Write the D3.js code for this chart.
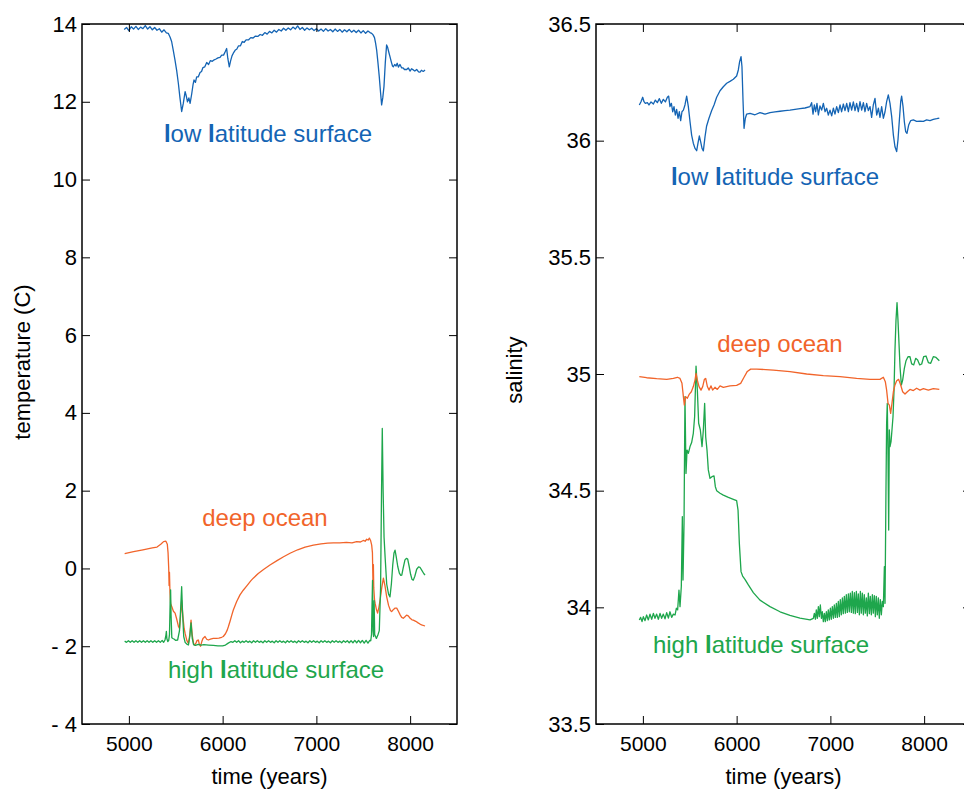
<!DOCTYPE html>
<html><head><meta charset="utf-8">
<script src="https://cdn.jsdelivr.net/npm/d3@7"></script>
<style>html,body{margin:0;padding:0;background:#fff;overflow:hidden}</style>
</head><body><svg id="chart" width="964" height="792"></svg>
<script>
// Axis ticks and their labels
const timeTicks = [5000, 6000, 7000, 8000];
const tempTicks = [-4, -2, 0, 2, 4, 6, 8, 10, 12, 14];
const tempTickLabels = ["- 4", "- 2", "0", "2", "4", "6", "8", "10", "12", "14"];
const salTicks = [33.5, 34, 34.5, 35, 35.5, 36, 36.5];
const salTickLabels = ["33.5", "34", "34.5", "35", "35.5", "36", "36.5"];

// Temperature (C) by time (years)
const tempLowLat = [[4950,13.86],[4975,13.91],[5000,13.83],[5025,13.93],[5050,13.87],[5075,13.94],[5100,13.86],[5125,13.92],[5150,13.88],[5175,13.96],[5200,13.87],[5225,13.93],[5250,13.85],[5275,13.91],[5300,13.84],[5325,13.88],[5350,13.79],[5375,13.85],[5400,13.77],[5420,13.76],[5440,13.66],[5456,13.55],[5475,13.30],[5492,13.07],[5510,12.80],[5528,12.47],[5545,12.10],[5563,11.75],[5580,11.95],[5600,12.26],[5612,12.15],[5625,12.00],[5640,12.10],[5653,11.96],[5670,12.20],[5685,12.45],[5695,12.56],[5710,12.50],[5723,12.64],[5740,12.64],[5759,12.75],[5775,12.78],[5790,12.88],[5810,12.90],[5830,13.01],[5850,12.96],[5870,13.06],[5890,13.04],[5910,13.08],[5930,13.10],[5950,13.13],[5972,13.14],[5990,13.20],[6010,13.20],[6030,13.30],[6043,13.37],[6055,13.12],[6071,12.90],[6085,13.05],[6100,13.18],[6114,13.25],[6135,13.33],[6150,13.35],[6170,13.44],[6190,13.44],[6210,13.55],[6230,13.53],[6250,13.59],[6275,13.59],[6300,13.65],[6325,13.64],[6350,13.69],[6375,13.68],[6400,13.73],[6425,13.71],[6450,13.78],[6475,13.74],[6500,13.81],[6525,13.77],[6550,13.84],[6575,13.79],[6600,13.86],[6625,13.82],[6650,13.89],[6675,13.84],[6700,13.90],[6725,13.85],[6750,13.92],[6775,13.87],[6800,13.95],[6825,13.86],[6850,13.91],[6875,13.84],[6900,13.90],[6925,13.85],[6950,13.89],[6975,13.83],[7000,13.88],[7025,13.82],[7050,13.87],[7075,13.81],[7100,13.88],[7125,13.82],[7150,13.86],[7175,13.80],[7200,13.87],[7225,13.81],[7250,13.86],[7275,13.79],[7300,13.85],[7325,13.80],[7350,13.86],[7375,13.79],[7400,13.84],[7425,13.78],[7450,13.84],[7475,13.77],[7500,13.83],[7525,13.76],[7550,13.82],[7572,13.78],[7590,13.76],[7605,13.72],[7620,13.65],[7632,13.50],[7643,13.33],[7657,13.00],[7671,12.64],[7684,12.25],[7696,11.92],[7708,12.10],[7721,12.39],[7735,13.00],[7749,13.46],[7760,13.40],[7772,13.28],[7785,13.16],[7800,13.02],[7812,12.92],[7821,12.90],[7835,12.96],[7850,12.92],[7862,12.99],[7875,12.89],[7892,12.96],[7910,12.87],[7925,12.87],[7940,12.83],[7963,12.83],[7980,12.87],[8000,12.79],[8015,12.85],[8034,12.82],[8050,12.79],[8070,12.83],[8090,12.77],[8105,12.76],[8120,12.81],[8140,12.78],[8159,12.82]];

const tempDeep = [[4955,0.38],[5050,0.43],[5150,0.48],[5250,0.53],[5300,0.55],[5340,0.62],[5370,0.69],[5395,0.70],[5410,0.62],[5418,0.40],[5425,0.00],[5429,-0.44],[5433,-0.10],[5438,-0.60],[5445,-0.90],[5460,-1.00],[5475,-1.10],[5493,-1.15],[5510,-1.30],[5530,-1.50],[5540,-1.54],[5552,-1.20],[5563,-0.82],[5575,-1.20],[5590,-1.55],[5600,-1.67],[5618,-1.85],[5635,-1.93],[5650,-1.70],[5663,-1.33],[5675,-1.70],[5690,-1.93],[5700,-1.97],[5715,-1.92],[5728,-1.85],[5741,-1.84],[5752,-1.95],[5764,-2.00],[5778,-1.88],[5790,-1.80],[5812,-1.75],[5830,-1.82],[5848,-1.84],[5870,-1.82],[5900,-1.80],[5930,-1.80],[5960,-1.79],[5990,-1.77],[6007,-1.75],[6030,-1.68],[6050,-1.58],[6061,-1.50],[6080,-1.35],[6100,-1.18],[6114,-1.07],[6150,-0.85],[6185,-0.68],[6220,-0.56],[6260,-0.44],[6300,-0.32],[6327,-0.25],[6380,-0.13],[6440,-0.02],[6505,0.09],[6580,0.20],[6650,0.30],[6719,0.39],[6800,0.48],[6880,0.55],[6968,0.60],[7050,0.63],[7120,0.65],[7181,0.66],[7250,0.66],[7320,0.67],[7380,0.66],[7430,0.69],[7470,0.68],[7500,0.72],[7520,0.70],[7537,0.75],[7552,0.73],[7565,0.78],[7578,0.72],[7590,0.60],[7598,0.40],[7603,-0.30],[7608,0.10],[7612,-0.50],[7620,-0.80],[7627,-0.90],[7640,-1.05],[7653,-1.15],[7667,-1.00],[7680,-0.81],[7697,-0.50],[7715,-0.25],[7732,-0.45],[7750,-0.73],[7770,-0.95],[7790,-1.08],[7803,-1.11],[7820,-1.06],[7840,-1.02],[7857,-1.02],[7875,-1.10],[7895,-1.20],[7910,-1.26],[7927,-1.28],[7945,-1.24],[7962,-1.20],[7980,-1.22],[8000,-1.28],[8020,-1.32],[8034,-1.33],[8060,-1.36],[8085,-1.40],[8105,-1.43],[8130,-1.46],[8159,-1.48]];

const tempHighLat = [[4955,-1.87],[4975,-1.90],[4995,-1.86],[5015,-1.90],[5035,-1.86],[5055,-1.90],[5075,-1.86],[5095,-1.90],[5115,-1.86],[5135,-1.90],[5155,-1.86],[5175,-1.90],[5195,-1.86],[5215,-1.90],[5235,-1.86],[5255,-1.90],[5275,-1.86],[5295,-1.90],[5315,-1.86],[5335,-1.90],[5355,-1.85],[5370,-1.90],[5385,-1.84],[5395,-1.72],[5400,-1.62],[5405,-1.80],[5415,-1.88],[5425,-1.85],[5433,-1.70],[5440,-0.90],[5445,-0.55],[5450,-1.20],[5458,-1.78],[5470,-1.80],[5485,-1.82],[5500,-1.85],[5520,-1.84],[5540,-1.60],[5553,-1.00],[5563,-0.47],[5572,-1.10],[5585,-1.75],[5600,-1.90],[5620,-1.95],[5635,-1.97],[5650,-1.75],[5663,-1.40],[5676,-1.80],[5690,-1.96],[5710,-1.98],[5740,-1.95],[5770,-1.97],[5800,-1.96],[5850,-1.97],[5900,-1.98],[5950,-1.99],[6000,-1.99],[6030,-1.97],[6060,-1.92],[6090,-1.88],[6110,-1.90],[6130,-1.86],[6150,-1.90],[6170,-1.86],[6190,-1.91],[6210,-1.87],[6230,-1.90],[6250,-1.86],[6270,-1.90],[6290,-1.87],[6310,-1.91],[6330,-1.86],[6350,-1.90],[6370,-1.86],[6390,-1.90],[6410,-1.87],[6430,-1.91],[6450,-1.86],[6470,-1.90],[6490,-1.86],[6510,-1.90],[6530,-1.87],[6550,-1.91],[6570,-1.86],[6590,-1.90],[6610,-1.86],[6630,-1.90],[6650,-1.87],[6670,-1.91],[6690,-1.86],[6710,-1.90],[6730,-1.86],[6750,-1.90],[6770,-1.87],[6790,-1.91],[6810,-1.86],[6830,-1.90],[6850,-1.86],[6870,-1.90],[6890,-1.87],[6910,-1.91],[6930,-1.86],[6950,-1.90],[6970,-1.86],[6990,-1.90],[7010,-1.87],[7030,-1.91],[7050,-1.86],[7070,-1.90],[7090,-1.86],[7110,-1.90],[7130,-1.87],[7150,-1.91],[7170,-1.86],[7190,-1.90],[7210,-1.86],[7230,-1.90],[7250,-1.87],[7270,-1.91],[7290,-1.86],[7310,-1.90],[7330,-1.86],[7350,-1.91],[7370,-1.86],[7390,-1.91],[7410,-1.85],[7430,-1.91],[7450,-1.85],[7470,-1.91],[7490,-1.85],[7510,-1.92],[7530,-1.85],[7550,-1.92],[7570,-1.85],[7580,-1.86],[7588,-1.70],[7594,-0.90],[7599,-0.31],[7604,-1.60],[7610,-1.75],[7616,-0.83],[7622,-1.70],[7640,-1.80],[7655,-1.72],[7671,-1.60],[7685,-0.50],[7695,2.00],[7703,3.60],[7712,2.00],[7722,0.80],[7733,0.30],[7750,-0.40],[7770,-0.66],[7785,-0.73],[7800,-0.40],[7815,0.10],[7828,0.40],[7839,0.47],[7852,0.30],[7868,0.05],[7885,-0.12],[7900,-0.18],[7911,-0.17],[7925,0.00],[7945,0.22],[7960,0.26],[7974,0.24],[7990,0.05],[8005,-0.15],[8020,-0.28],[8034,-0.30],[8050,-0.20],[8070,-0.02],[8090,0.04],[8105,0.03],[8125,-0.05],[8145,-0.13],[8159,-0.17]];

// Salinity by time (years)
const salLowLat = [[4962,36.153],[4980,36.167],[4998,36.186],[5012,36.167],[5026,36.160],[5048,36.163],[5065,36.153],[5087,36.166],[5112,36.157],[5133,36.174],[5154,36.163],[5176,36.180],[5197,36.160],[5218,36.177],[5240,36.166],[5261,36.186],[5275,36.191],[5289,36.146],[5304,36.160],[5318,36.124],[5332,36.146],[5346,36.110],[5360,36.134],[5375,36.096],[5389,36.124],[5403,36.086],[5417,36.124],[5432,36.131],[5449,36.153],[5467,36.191],[5485,36.146],[5503,36.081],[5520,36.024],[5538,35.989],[5556,35.967],[5574,35.957],[5588,35.989],[5602,36.020],[5616,35.996],[5631,35.967],[5645,35.956],[5663,36.017],[5680,36.063],[5705,36.096],[5734,36.129],[5759,36.153],[5787,36.186],[5823,36.214],[5858,36.231],[5894,36.246],[5929,36.254],[5965,36.263],[6000,36.277],[6018,36.303],[6032,36.339],[6047,36.360],[6057,36.317],[6068,36.174],[6079,36.053],[6093,36.096],[6107,36.114],[6143,36.117],[6196,36.111],[6249,36.120],[6303,36.114],[6356,36.120],[6409,36.123],[6463,36.126],[6516,36.129],[6569,36.131],[6623,36.134],[6676,36.137],[6729,36.140],[6783,36.146],[6800,36.163],[6815,36.114],[6829,36.153],[6843,36.124],[6857,36.160],[6872,36.110],[6889,36.149],[6907,36.131],[6925,36.160],[6943,36.124],[6960,36.139],[6978,36.110],[6996,36.131],[7014,36.106],[7032,36.139],[7049,36.114],[7067,36.146],[7085,36.120],[7103,36.153],[7120,36.124],[7138,36.157],[7156,36.129],[7174,36.160],[7192,36.124],[7209,36.163],[7227,36.131],[7245,36.166],[7263,36.129],[7280,36.160],[7298,36.124],[7316,36.167],[7334,36.131],[7352,36.163],[7369,36.124],[7387,36.160],[7405,36.129],[7423,36.146],[7440,36.100],[7458,36.153],[7476,36.181],[7494,36.110],[7512,36.139],[7529,36.100],[7547,36.146],[7565,36.096],[7583,36.124],[7600,36.167],[7618,36.196],[7636,36.160],[7654,36.103],[7672,36.024],[7689,35.974],[7707,35.953],[7721,36.003],[7736,36.089],[7750,36.167],[7760,36.191],[7775,36.146],[7789,36.081],[7803,36.039],[7817,36.031],[7835,36.067],[7857,36.086],[7885,36.089],[7920,36.083],[7956,36.084],[7992,36.083],[8027,36.089],[8063,36.086],[8098,36.091],[8134,36.094],[8162,36.097]];

const salDeep = [[4962,34.989],[5040,34.984],[5147,34.980],[5254,34.977],[5325,34.981],[5368,34.986],[5396,34.981],[5417,34.960],[5432,34.903],[5442,34.867],[5456,34.903],[5474,34.896],[5496,34.914],[5517,34.924],[5538,34.946],[5556,34.974],[5567,35.003],[5581,34.974],[5599,34.946],[5620,34.931],[5638,34.946],[5656,34.977],[5670,34.981],[5688,34.946],[5705,34.931],[5727,34.949],[5744,34.931],[5769,34.943],[5794,34.934],[5823,34.949],[5858,34.943],[5929,34.949],[6000,34.951],[6043,34.960],[6079,34.986],[6114,35.011],[6150,35.021],[6214,35.021],[6392,35.017],[6569,35.010],[6747,35.000],[6925,34.993],[7103,34.989],[7280,34.981],[7423,34.977],[7529,34.977],[7565,34.986],[7586,34.967],[7600,34.931],[7615,34.874],[7629,34.867],[7643,34.831],[7657,34.874],[7672,34.924],[7689,34.953],[7707,34.971],[7728,34.977],[7750,34.953],[7771,34.924],[7796,34.914],[7821,34.924],[7849,34.934],[7885,34.929],[7920,34.939],[7956,34.931],[7992,34.937],[8045,34.931],[8098,34.937],[8162,34.934]];

const salHighLat = [[4962,33.946],[4976,33.957],[4991,33.939],[5005,33.960],[5023,33.943],[5040,33.967],[5058,33.946],[5076,33.971],[5094,33.949],[5112,33.974],[5129,33.953],[5147,33.971],[5165,33.949],[5183,33.974],[5200,33.953],[5218,33.971],[5236,33.951],[5254,33.977],[5272,33.954],[5289,33.981],[5307,33.957],[5325,33.971],[5343,33.967],[5357,33.996],[5371,33.989],[5385,34.074],[5396,34.003],[5410,34.089],[5421,34.389],[5428,34.117],[5439,34.360],[5449,34.903],[5460,34.574],[5471,34.674],[5485,34.660],[5503,34.689],[5520,34.706],[5538,34.746],[5552,34.817],[5567,35.034],[5581,34.931],[5595,34.789],[5613,34.760],[5631,34.689],[5645,34.760],[5659,34.874],[5670,34.731],[5684,34.674],[5698,34.589],[5716,34.553],[5737,34.560],[5759,34.563],[5773,34.517],[5787,34.500],[5823,34.489],[5858,34.481],[5912,34.471],[5965,34.463],[6000,34.457],[6015,34.417],[6029,34.274],[6047,34.153],[6064,34.134],[6089,34.120],[6125,34.096],[6178,34.063],[6249,34.031],[6356,34.003],[6463,33.981],[6569,33.966],[6676,33.954],[6783,33.946],[6818,33.953],[6829,33.974],[6840,33.949],[6850,33.989],[6861,33.953],[6872,34.003],[6882,33.960],[6893,34.010],[6904,33.953],[6914,33.981],[6925,33.939],[6936,33.974],[6946,33.939],[6957,33.981],[6968,33.943],[6978,33.989],[6989,33.946],[7000,33.996],[7010,33.949],[7021,34.003],[7032,33.953],[7042,34.010],[7053,33.957],[7064,34.017],[7074,33.957],[7085,34.025],[7096,33.960],[7106,34.033],[7117,33.968],[7128,34.040],[7138,33.973],[7149,34.047],[7160,33.975],[7170,34.054],[7181,33.978],[7192,34.058],[7202,33.981],[7213,34.061],[7224,33.978],[7234,34.068],[7245,33.975],[7256,34.063],[7266,33.973],[7277,34.068],[7288,33.978],[7298,34.058],[7309,33.968],[7320,34.068],[7330,33.975],[7341,34.061],[7352,33.968],[7362,34.054],[7373,33.975],[7384,34.040],[7394,33.963],[7405,34.061],[7416,33.973],[7426,34.047],[7437,33.968],[7448,34.054],[7458,33.975],[7469,34.050],[7480,33.960],[7490,34.047],[7501,33.968],[7512,34.040],[7522,33.953],[7533,34.033],[7544,33.968],[7554,34.025],[7565,34.003],[7576,34.174],[7583,34.017],[7593,34.503],[7600,34.789],[7607,34.874],[7615,34.646],[7622,34.331],[7629,34.760],[7636,34.689],[7647,34.710],[7657,34.760],[7668,34.817],[7679,34.931],[7689,35.103],[7700,35.231],[7711,35.306],[7721,35.231],[7732,35.131],[7743,35.031],[7757,34.953],[7771,34.974],[7789,35.024],[7807,35.057],[7828,35.074],[7849,35.074],[7867,35.043],[7889,35.039],[7910,35.067],[7931,35.060],[7953,35.039],[7974,35.043],[7995,35.074],[8020,35.077],[8045,35.049],[8070,35.046],[8098,35.074],[8127,35.071],[8162,35.057]];

const BLUE = "#1464b4", ORANGE = "#f1642a", GREEN = "#1ea64c";
const FONT = "'Liberation Sans', Arial, Helvetica, sans-serif";

const svg = d3.select("#chart");
const plotTop = 24, plotBottom = 724, plotW = 375;

function drawPanel(cfg) {
  const g = svg.append("g");
  const x = d3.scaleLinear().domain([4500, 8500]).range([cfg.left, cfg.left + plotW]);
  const y = d3.scaleLinear().domain(cfg.yDomain).range([plotBottom, plotTop]);
  const right = cfg.left + plotW;

  const line = d3.line().x(d => x(d[0])).y(d => y(d[1]));
  const lines = g.append("g").attr("fill", "none").attr("stroke-width", 1.3)
    .attr("stroke-linejoin", "round");
  cfg.series.forEach(s => {
    lines.append("path").datum(s.data).attr("stroke", s.color).attr("d", line);
  });

  // Tick marks point inward on all four sides
  const styleAxis = (sel, size) => {
    sel.select(".domain").remove();
    sel.selectAll(".tick line").attr("stroke", "#000").attr("stroke-width", 1);
    if (!size) sel.selectAll(".tick text").remove();
    else sel.selectAll(".tick text").attr("fill", "#000").style("font-family", FONT).style("font-size", size);
  };
  g.append("g").attr("transform", `translate(0,${plotBottom})`)
    .call(d3.axisBottom(x).tickValues(timeTicks).tickFormat(d3.format("d")).tickSize(-8).tickSizeOuter(0).tickPadding(12))
    .call(s => styleAxis(s, "21px"));
  g.append("g").attr("transform", `translate(0,${plotTop})`)
    .call(d3.axisTop(x).tickValues(timeTicks).tickSize(-8).tickSizeOuter(0))
    .call(s => styleAxis(s, null));
  g.append("g").attr("transform", `translate(${cfg.left},0)`)
    .call(d3.axisLeft(y).tickValues(cfg.yTicks).tickFormat((d, i) => cfg.yLabels[i]).tickSize(-8).tickSizeOuter(0).tickPadding(5))
    .call(s => styleAxis(s, "22px"));
  g.append("g").attr("transform", `translate(${right},0)`)
    .call(d3.axisRight(y).tickValues(cfg.yTicks).tickSize(-8).tickSizeOuter(0))
    .call(s => styleAxis(s, null));

  g.append("rect").attr("x", cfg.left).attr("y", plotTop).attr("width", plotW).attr("height", plotBottom - plotTop)
    .attr("fill", "none").attr("stroke", "#000").attr("stroke-width", 1.5);

  g.append("text").attr("x", cfg.left + plotW / 2).attr("y", 784).attr("text-anchor", "middle")
    .style("font-family", FONT).style("font-size", "22px").text("time (years)");
  g.append("text").attr("transform", `translate(${cfg.yTitleX},${cfg.yTitleY}) rotate(-90)`)
    .attr("text-anchor", "middle").style("font-family", FONT).style("font-size", "22px").text(cfg.yTitle);

  // Series names, drawn beside their curves
  cfg.series.forEach(s => {
    const t = g.append("text").attr("x", s.labelX).attr("y", s.labelY).attr("text-anchor", "middle")
      .attr("fill", s.color).style("font-family", FONT).style("font-size", "24px");
    s.label.split(/(l)/).forEach(part => {
      if (part === "") return;
      t.append("tspan").style("font-weight", part === "l" ? "bold" : "normal").text(part);
    });
  });
}

drawPanel({
  left: 82, yDomain: [-4, 14], yTicks: tempTicks, yLabels: tempTickLabels,
  yTitle: "temperature (C)", yTitleX: 30, yTitleY: 362,
  series: [
    { data: tempDeep, color: ORANGE, label: "deep ocean", labelX: 265, labelY: 526 },
    { data: tempHighLat, color: GREEN, label: "high latitude surface", labelX: 276, labelY: 678 },
    { data: tempLowLat, color: BLUE, label: "low latitude surface", labelX: 268, labelY: 142 }
  ]
});

drawPanel({
  left: 596, yDomain: [33.5, 36.5], yTicks: salTicks, yLabels: salTickLabels,
  yTitle: "salinity", yTitleX: 522, yTitleY: 370,
  series: [
    { data: salHighLat, color: GREEN, label: "high latitude surface", labelX: 761, labelY: 653 },
    { data: salDeep, color: ORANGE, label: "deep ocean", labelX: 780, labelY: 352 },
    { data: salLowLat, color: BLUE, label: "low latitude surface", labelX: 775, labelY: 185 }
  ]
});
</script>
</body></html>
